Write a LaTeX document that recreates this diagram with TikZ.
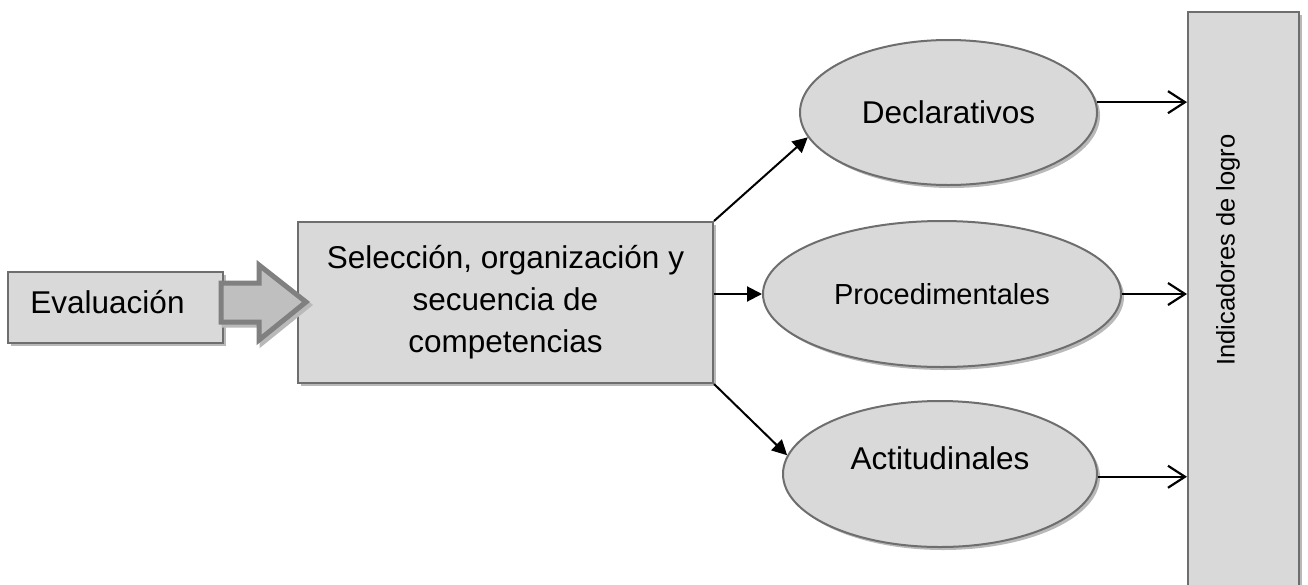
\documentclass[tikz,border=0pt]{standalone}
\usepackage{fontspec}
\setmainfont{Liberation Sans}
\usetikzlibrary{shapes.geometric,shadows,arrows.meta}
\definecolor{boxfill}{RGB}{217,217,217}
\definecolor{boxline}{RGB}{110,110,110}
\definecolor{shade}{RGB}{185,185,185}
\definecolor{arrfill}{RGB}{191,191,191}
\definecolor{arrline}{RGB}{128,128,128}
\tikzset{
 shad/.style={drop shadow={shadow xshift=3pt,shadow yshift=-3pt,fill=shade,opacity=1}},
 boxnode/.style={rectangle,fill=boxfill,draw=boxline,line width=2pt,inner sep=0pt,shad},
 ellnode/.style={ellipse,fill=boxfill,draw=boxline,line width=2pt,inner sep=0pt,shad},
 txt/.style={font=\fontsize{31.5}{42}\selectfont},
 smalltxt/.style={font=\fontsize{29}{36}\selectfont},
 vtxt/.style={font=\fontsize{25.5}{30}\selectfont},
 conn/.style={line width=2pt,-{Triangle[length=15pt,width=15pt]}},
 outconn/.style={line width=2.2pt,-{Straight Barb[length=17pt,width=22pt]}},
 blockarrow/.style={fill=arrfill,draw=arrline,line width=5pt,line join=miter},
 blockshadow/.style={fill=shade,draw=shade,line width=5pt,line join=miter},
}
\begin{document}
\begin{tikzpicture}[x=1pt,y=-1pt]
\useasboundingbox (0,0) rectangle (1308,584);
\clip (0,0) rectangle (1308,584);
% Evaluacion box
\node[boxnode,minimum width=215pt,minimum height=71pt,
  label={[txt,xshift=-8pt,yshift=5pt]center:Evaluación}] (eval) at (115.5,307.5) {};
% main box
\node[boxnode,txt,align=center,minimum width=415pt,minimum height=161pt] (sel) at (505.5,302.5)
  {Selección, organización y\\secuencia de\\competencias};
% block arrow
\begin{scope}[shift={(eval.east)}]
\draw[blockshadow,shift={(3,3)}] (-3,-24.5) -- (35,-24.5) -- (35,-42.5) -- (82,-5.5) -- (35,32.5) -- (35,14.5) -- (-3,14.5) -- cycle;
\draw[blockarrow] (-3,-24.5) -- (35,-24.5) -- (35,-42.5) -- (82,-5.5) -- (35,32.5) -- (35,14.5) -- (-3,14.5) -- cycle;
\end{scope}
% ellipses
\node[ellnode,txt,minimum width=297pt,minimum height=145pt] (decl) at (948.5,112.5) {Declarativos};
\node[ellnode,smalltxt,minimum width=358pt,minimum height=146pt] (proc) at (942,294) {Procedimentales};
\node[ellnode,minimum width=314pt,minimum height=146pt,
  label={[txt,yshift=16pt]center:Actitudinales}] (acti) at (940,474) {};
% indicadores box
\node[boxnode,minimum width=111pt,minimum height=588pt] (ind) at (1243.5,306) {};
\node[vtxt,rotate=90] (indtext) at (1228,250) {Indicadores de logro};
% connectors
\draw[conn] (sel.north east) -- (decl.190);
\draw[conn] (sel.east |- proc.west) -- (proc.west);
\draw[conn] (sel.south east) -- (acti.173);
\draw[outconn] (decl.4) -- (decl.4 -| ind.west);
\draw[outconn] (proc.east) -- (proc.east -| ind.west);
\draw[outconn] (acti.-1) -- (acti.-1 -| ind.west);
\end{tikzpicture}
\end{document}
